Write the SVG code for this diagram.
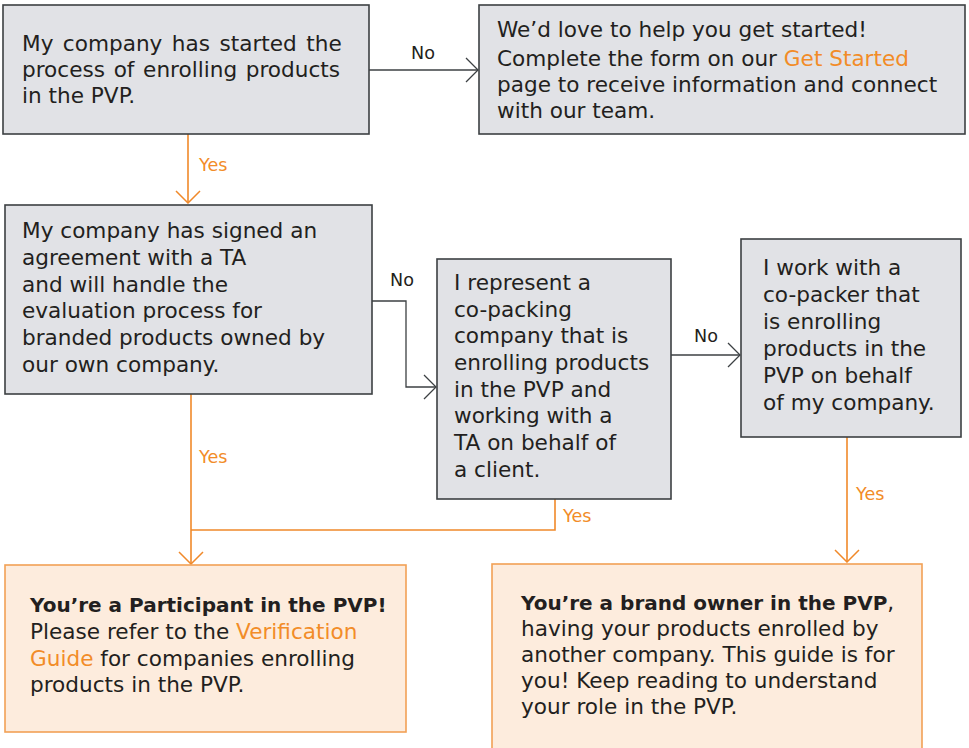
<svg xmlns="http://www.w3.org/2000/svg" width="969" height="748" viewBox="0 0 969 748">
<style>
.q{fill:#e1e2e6;stroke:#3c4043;stroke-width:1.6}
.r{fill:#fdecdd;stroke:#f2a155;stroke-width:1.6}
.t{font-family:'DejaVu Sans',Verdana,sans-serif;font-size:21.6px;fill:#231f20}
.b{font-weight:bold;font-size:20px}
.o{fill:#f28c28}
.lbl{font-family:'DejaVu Sans',Verdana,sans-serif;font-size:17.6px;fill:#231f20}
.ly{font-family:'DejaVu Sans',Verdana,sans-serif;font-size:17.6px;fill:#f28c28}
.cg{fill:none;stroke:#3c4043;stroke-width:1.3}
.co{fill:none;stroke:#f0892a;stroke-width:1.6}
</style>
<defs>
<marker id="ag" viewBox="0 0 14 26" refX="13" refY="13" markerWidth="14" markerHeight="26" orient="auto" markerUnits="userSpaceOnUse"><path d="M1,1 L13,13 L1,25" fill="none" stroke="#3c4043" stroke-width="1.3"/></marker>
<marker id="ao" viewBox="0 0 14 26" refX="13" refY="13" markerWidth="14" markerHeight="26" orient="auto" markerUnits="userSpaceOnUse"><path d="M1,1 L13,13 L1,25" fill="none" stroke="#f0892a" stroke-width="1.5"/></marker>
</defs>

<g id="connectors">
<path class="cg" d="M369,70 H478" marker-end="url(#ag)"/>
<path class="co" d="M188,134 V203" marker-end="url(#ao)"/>
<path class="cg" d="M372,301 H406 V387 H436" marker-end="url(#ag)"/>
<path class="cg" d="M671,355 H740" marker-end="url(#ag)"/>
<path class="co" d="M191,394 V564" marker-end="url(#ao)"/>
<path class="co" d="M555,499 V530 H191"/>
<path class="co" d="M847,437 V562" marker-end="url(#ao)"/>
<text class="lbl" x="411" y="59">No</text>
<text class="ly" x="199" y="171">Yes</text>
<text class="lbl" x="390" y="286">No</text>
<text class="lbl" x="694" y="342">No</text>
<text class="ly" x="199" y="463">Yes</text>
<text class="ly" x="563" y="522">Yes</text>
<text class="ly" x="856" y="500">Yes</text>
</g>

<g id="start">
<rect class="q" x="3" y="5" width="366" height="129"/>
<text class="t" x="22" y="51" word-spacing="2.6">My company has started the</text>
<text class="t" x="22" y="77" word-spacing="1.8">process of enrolling products</text>
<text class="t" x="22" y="103">in the PVP.</text>
</g>

<g id="get-started">
<rect class="q" x="479" y="5" width="486" height="129"/>
<text class="t" x="497" y="37">We’d love to help you get started!</text>
<text class="t" x="497" y="66">Complete the form on our <tspan class="o">Get Started</tspan></text>
<text class="t" x="497" y="92">page to receive information and connect</text>
<text class="t" x="497" y="118">with our team.</text>
</g>

<g id="signed-agreement">
<rect class="q" x="5" y="205" width="367" height="189"/>
<text class="t" x="22" y="238">My company has signed an</text>
<text class="t" x="22" y="265">agreement with a TA</text>
<text class="t" x="22" y="292">and will handle the</text>
<text class="t" x="22" y="318">evaluation process for</text>
<text class="t" x="22" y="345">branded products owned by</text>
<text class="t" x="22" y="372">our own company.</text>
</g>

<g id="co-packing">
<rect class="q" x="437" y="259" width="234" height="240"/>
<text class="t" x="454" y="290">I represent a</text>
<text class="t" x="454" y="317">co-packing</text>
<text class="t" x="454" y="343">company that is</text>
<text class="t" x="454" y="370">enrolling products</text>
<text class="t" x="454" y="397">in the PVP and</text>
<text class="t" x="454" y="423">working with a</text>
<text class="t" x="454" y="450">TA on behalf of</text>
<text class="t" x="454" y="477">a client.</text>
</g>

<g id="co-packer">
<rect class="q" x="741" y="239" width="220" height="198"/>
<text class="t" x="763" y="275">I work with a</text>
<text class="t" x="763" y="302">co-packer that</text>
<text class="t" x="763" y="329">is enrolling</text>
<text class="t" x="763" y="356">products in the</text>
<text class="t" x="763" y="383">PVP on behalf</text>
<text class="t" x="763" y="410">of my company.</text>
</g>

<g id="participant">
<rect class="r" x="5" y="565" width="401" height="167"/>
<text class="t b" x="30" y="612">You’re a Participant in the PVP!</text>
<text class="t" x="30" y="639">Please refer to the <tspan class="o">Verification</tspan></text>
<text class="t" x="30" y="666"><tspan class="o">Guide</tspan> for companies enrolling</text>
<text class="t" x="30" y="692">products in the PVP.</text>
</g>

<g id="brand-owner">
<rect class="r" x="492" y="564" width="430" height="200"/>
<text class="t" x="521" y="610"><tspan class="b">You’re a brand owner in the PVP</tspan>,</text>
<text class="t" x="521" y="636">having your products enrolled by</text>
<text class="t" x="521" y="662">another company. This guide is for</text>
<text class="t" x="521" y="688">you! Keep reading to understand</text>
<text class="t" x="521" y="714">your role in the PVP.</text>
</g>
</svg>
